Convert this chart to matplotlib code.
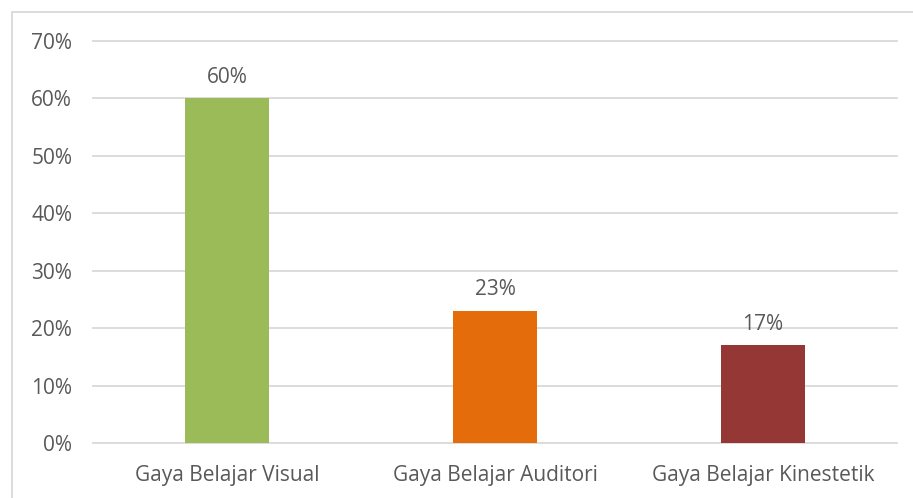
import matplotlib.pyplot as plt
from matplotlib.patches import Rectangle
from matplotlib.ticker import PercentFormatter

categories = ['Gaya Belajar Visual', 'Gaya Belajar Auditori', 'Gaya Belajar Kinestetik']
values = [0.60, 0.23, 0.17]
colors = ['#9BBB59', '#E46C0A', '#953735']
yticks = [0, 0.1, 0.2, 0.3, 0.4, 0.5, 0.6, 0.7]

plt.rcParams['font.family'] = ['Open Sans', 'DejaVu Sans']
text_color = '#595959'
grid_color = '#D9D9D9'

fig = plt.figure(figsize=(9.13, 4.98), dpi=100)
ax = fig.add_axes([93 / 913, 1 - 443 / 498, (897 - 93) / 913, (443 - 41) / 498])

x = range(len(categories))
bars = ax.bar(x, values, width=0.317, color=colors, zorder=3)

for bar, v in zip(bars, values):
    ax.annotate(f'{v:.0%}', (bar.get_x() + bar.get_width() / 2, v),
                xytext=(0, 7.5), textcoords='offset points',
                ha='center', va='bottom', fontsize=15, color=text_color)

ax.set_xlim(-0.5, 2.5)
ax.set_ylim(0, 0.7)
ax.set_yticks(yticks)
ax.yaxis.set_major_formatter(PercentFormatter(1.0, decimals=0))
ax.set_xticks(list(x))
ax.set_xticklabels(categories)
ax.tick_params(axis='both', length=0, labelsize=15, colors=text_color)
ax.tick_params(axis='y', pad=15)
ax.tick_params(axis='x', pad=15.5)
ax.grid(axis='y', color=grid_color, linewidth=1.3, zorder=0)
for line in ax.get_ygridlines():
    line.set_clip_on(False)
for s in ax.spines.values():
    s.set_visible(False)

# chart border (only left and top edges are inside the picture)
fig.add_artist(Rectangle((12 / 913, -0.1), 1.2, 1 - 12 / 498 + 0.1,
                         transform=fig.transFigure, fill=False,
                         edgecolor=grid_color, linewidth=1.3))

fig.savefig('out.png', dpi=100)
